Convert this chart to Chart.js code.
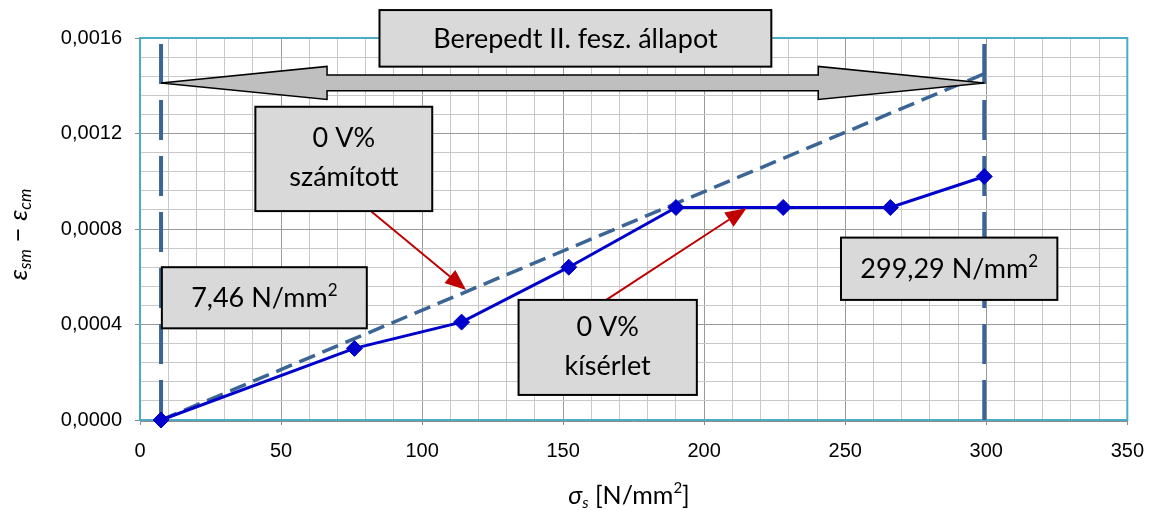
<!DOCTYPE html>
<html>
<head>
<meta charset="utf-8">
<script src="https://cdn.jsdelivr.net/npm/chart.js@4.4.1/dist/chart.umd.min.js"></script>
<style>
  html, body { margin: 0; padding: 0; background: #ffffff; }
  canvas { display: block; }
</style>
</head>
<body>
<canvas id="chart" width="1158" height="510"></canvas>
<script>
// Measured steel stress [N/mm2] and mean strain difference (0 V% test)
const stressMeasured = [7.46, 76, 114, 152, 190, 228, 266, 299.29];
const strainMeasured = [0, 0.0003, 0.00041, 0.00064, 0.00089, 0.00089, 0.00089, 0.00102];

// Calculated strain difference (0 V%)
const stressCalculated = [7.46, 299.29];
const strainCalculated = [0, 0.00145];

// Limits of the cracked stage II range
const stageLimits = [7.46, 299.29];
const stageStrainRange = [0, 0.0016];

// Axis ticks
const xMajorTicks = [0, 50, 100, 150, 200, 250, 300, 350];
const xTickLabels = ['0', '50', '100', '150', '200', '250', '300', '350'];
const yMajorTicks = [0, 0.0004, 0.0008, 0.0012, 0.0016];
const yTickLabels = ['0,0000', '0,0004', '0,0008', '0,0012', '0,0016'];

const LIMIT_COLOR = '#3a6595';
const SERIES_COLOR = '#0000cc';
const CALLOUT_RED = '#c00000';
const BOX_FILL = '#d9d9d9';
const BOX_FONT = 'Lato';

function pts(xs, ys) { return xs.map((x, i) => ({ x: x, y: ys[i] })); }
function majorIndex(list, v) {
  for (let i = 0; i < list.length; i++) if (Math.abs(list[i] - v) < 1e-9) return i;
  return -1;
}

// Callout boxes, positioned in axis units
const callouts = [
  { lines: [[{ t: 'Berepedt II. fesz. állapot' }]], x: [84.9, 223.8], y: [0.00148, 0.001717] },
  { lines: [[{ t: '0 V%' }], [{ t: 'számított' }]], x: [40.9, 103.6], y: [0.000875, 0.001312] },
  { lines: [[{ t: '0 V%' }], [{ t: 'kísérlet' }]], x: [134.2, 197.4], y: [0.000105, 0.000503] },
  { lines: [[{ t: '7,46 N/mm' }, { t: '2', sup: true }]], x: [7.75, 80.4], y: [0.000384, 0.00064] },
  { lines: [[{ t: '299,29 N/mm' }, { t: '2', sup: true }]], x: [248.5, 325.2], y: [0.000503, 0.000764] }
];
// Red pointer arrows: from box edge to target
const pointers = [
  { from: [81.8, 0.000875], to: [115.6, 0.000545] },
  { from: [165.3, 0.000503], to: [215.0, 0.000887] }
];
// Double arrow spanning the cracked range
const spanArrow = { x: stageLimits, y: 0.001412 };

function drawParts(ctx, parts, cx, baseY) {
  let total = 0;
  parts.forEach(p => { ctx.font = p.font; p.w = ctx.measureText(p.t).width; total += p.w; });
  let x = cx - total / 2;
  parts.forEach(p => {
    ctx.font = p.font;
    ctx.fillText(p.t, x, baseY + (p.dy || 0));
    x += p.w;
  });
}

const annotationPlugin = {
  id: 'annotations',
  beforeDatasetsDraw(chart) {
    const { ctx, chartArea: a } = chart;
    ctx.save();
    ctx.strokeStyle = '#4bacc6';
    ctx.lineWidth = 2;
    ctx.strokeRect(a.left, a.top, a.right - a.left, a.bottom - a.top);
    ctx.strokeStyle = '#8c8c8c';
    ctx.lineWidth = 1;
    ctx.beginPath();
    ctx.moveTo(a.left, a.bottom + 1.5);
    ctx.lineTo(a.right, a.bottom + 1.5);
    ctx.stroke();
    ctx.restore();
  },
  afterDatasetsDraw(chart) {
    const { ctx, scales: { x: sx, y: sy } } = chart;
    const px = v => sx.getPixelForValue(v);
    const py = v => sy.getPixelForValue(v);
    ctx.save();

    // double arrow
    const xl = px(spanArrow.x[0]), xr = px(spanArrow.x[1]), yc = py(spanArrow.y);
    const headLen = 166, headHalf = 16.5, shaftHalf = 7.8;
    ctx.beginPath();
    ctx.moveTo(xl, yc);
    ctx.lineTo(xl + headLen, yc - headHalf);
    ctx.lineTo(xl + headLen, yc - shaftHalf);
    ctx.lineTo(xr - headLen, yc - shaftHalf);
    ctx.lineTo(xr - headLen, yc - headHalf);
    ctx.lineTo(xr, yc);
    ctx.lineTo(xr - headLen, yc + headHalf);
    ctx.lineTo(xr - headLen, yc + shaftHalf);
    ctx.lineTo(xl + headLen, yc + shaftHalf);
    ctx.lineTo(xl + headLen, yc + headHalf);
    ctx.closePath();
    ctx.fillStyle = '#bfbfbf';
    ctx.fill();
    ctx.strokeStyle = '#000';
    ctx.lineWidth = 1.5;
    ctx.lineJoin = 'miter';
    ctx.stroke();

    // red pointers
    pointers.forEach(p => {
      const x0 = px(p.from[0]), y0 = py(p.from[1]);
      const x1 = px(p.to[0]), y1 = py(p.to[1]);
      const ang = Math.atan2(y1 - y0, x1 - x0);
      const hl = 21, hw = 8.5;
      const bx = x1 - hl * Math.cos(ang), by = y1 - hl * Math.sin(ang);
      ctx.strokeStyle = CALLOUT_RED;
      ctx.lineWidth = 2;
      ctx.beginPath();
      ctx.moveTo(x0, y0);
      ctx.lineTo(bx, by);
      ctx.stroke();
      ctx.fillStyle = CALLOUT_RED;
      ctx.beginPath();
      ctx.moveTo(x1, y1);
      ctx.lineTo(bx + hw * Math.sin(ang), by - hw * Math.cos(ang));
      ctx.lineTo(bx - hw * Math.sin(ang), by + hw * Math.cos(ang));
      ctx.closePath();
      ctx.fill();
    });

    // boxes
    const fs = 27;
    callouts.forEach(b => {
      const l = px(b.x[0]), r = px(b.x[1]), t = py(b.y[1]), btm = py(b.y[0]);
      ctx.fillStyle = BOX_FILL;
      ctx.fillRect(l, t, r - l, btm - t);
      ctx.strokeStyle = '#000';
      ctx.lineWidth = 2;
      ctx.strokeRect(l, t, r - l, btm - t);
      ctx.fillStyle = '#000';
      ctx.textBaseline = 'alphabetic';
      const cx = (l + r) / 2, cy = (t + btm) / 2 - (b.lines.length > 1 ? 2 : 0);
      const gap = 39;
      b.lines.forEach((line, i) => {
        const lineCy = cy + (i - (b.lines.length - 1) / 2) * gap;
        const parts = line.map(p => ({
          t: p.t,
          font: p.sup ? `${Math.round(fs * 0.62)}px ${BOX_FONT}` : `${fs}px ${BOX_FONT}`,
          dy: p.sup ? -fs * 0.42 : 0
        }));
        drawParts(ctx, parts, cx, lineCy + fs * 0.36);
      });
    });

    // axis titles
    ctx.fillStyle = '#000';
    ctx.textBaseline = 'alphabetic';
    drawParts(ctx, [
      { t: 'σ', font: `italic 25px ${BOX_FONT}` },
      { t: 's', font: `italic 16px ${BOX_FONT}`, dy: 4 },
      { t: ' [N/mm', font: `25px ${BOX_FONT}` },
      { t: '2', font: `15px ${BOX_FONT}`, dy: -11 },
      { t: ']', font: `25px ${BOX_FONT}` }
    ], 629, 504);

    ctx.translate(27, 234.5);
    ctx.rotate(-Math.PI / 2);
    drawParts(ctx, [
      { t: 'ε', font: `italic 26px ${BOX_FONT}` },
      { t: 'sm', font: `italic 17px ${BOX_FONT}`, dy: 4 },
      { t: ' − ', font: `26px ${BOX_FONT}` },
      { t: 'ε', font: `italic 26px ${BOX_FONT}` },
      { t: 'cm', font: `italic 17px ${BOX_FONT}`, dy: 4 }
    ], 0, 0);
    ctx.restore();
  }
};

const isMajorX = v => majorIndex(xMajorTicks, v) >= 0;
const isMajorY = v => majorIndex(yMajorTicks, v) >= 0;

new Chart(document.getElementById('chart'), {
  type: 'scatter',
  data: {
    datasets: [
      {
        label: '0 V% kísérlet',
        data: pts(stressMeasured, strainMeasured),
        showLine: true,
        borderColor: SERIES_COLOR,
        backgroundColor: SERIES_COLOR,
        borderWidth: 3,
        pointStyle: 'rectRot',
        pointRadius: 8,
        pointBorderWidth: 1,
        clip: false
      },
      {
        label: '0 V% számított',
        data: pts(stressCalculated, strainCalculated),
        showLine: true,
        borderColor: LIMIT_COLOR,
        borderWidth: 3.5,
        borderDash: [17, 8],
        pointRadius: 0
      },
      {
        label: 'határ 1',
        data: pts([stageLimits[0], stageLimits[0]], stageStrainRange),
        showLine: true,
        borderColor: LIMIT_COLOR,
        borderWidth: 4,
        borderDash: [40, 16],
        pointRadius: 0
      },
      {
        label: 'határ 2',
        data: pts([stageLimits[1], stageLimits[1]], stageStrainRange),
        showLine: true,
        borderColor: LIMIT_COLOR,
        borderWidth: 4,
        borderDash: [40, 16],
        pointRadius: 0
      }
    ]
  },
  options: {
    responsive: false,
    animation: false,
    devicePixelRatio: 1,
    layout: { padding: { top: 38, right: 25, left: 0, bottom: 0 } },
    plugins: { legend: { display: false }, tooltip: { enabled: false } },
    scales: {
      x: {
        type: 'linear',
        min: 0,
        max: 350,
        afterFit(s) { s.height = 90; },
        border: { display: false },
        grid: {
          color: c => (c.tick && isMajorX(c.tick.value)) ? '#9a9a9a' : '#c8c8c8',
          tickColor: c => (c.tick && isMajorX(c.tick.value)) ? '#8c8c8c' : 'rgba(0,0,0,0)',
          tickLength: 5,
          lineWidth: 1
        },
        ticks: {
          stepSize: 10,
          autoSkip: false,
          maxRotation: 0,
          padding: 14,
          color: '#000',
          font: { family: 'Liberation Sans', size: 20 },
          callback: v => { const i = majorIndex(xMajorTicks, v); return i >= 0 ? xTickLabels[i] : ''; }
        }
      },
      y: {
        type: 'linear',
        min: 0,
        max: 0.0016,
        afterFit(s) { s.width = 140; },
        border: { display: false },
        grid: {
          color: c => (c.tick && isMajorY(c.tick.value)) ? '#9a9a9a' : '#c8c8c8',
          tickColor: c => (c.tick && isMajorY(c.tick.value)) ? '#8c8c8c' : 'rgba(0,0,0,0)',
          tickLength: 5,
          lineWidth: 1
        },
        ticks: {
          stepSize: 0.00008,
          autoSkip: false,
          padding: 13,
          color: '#000',
          font: { family: 'Liberation Sans', size: 20 },
          callback: v => { const i = majorIndex(yMajorTicks, v); return i >= 0 ? yTickLabels[i] : ''; }
        }
      }
    }
  },
  plugins: [annotationPlugin]
});
</script>
</body>
</html>
